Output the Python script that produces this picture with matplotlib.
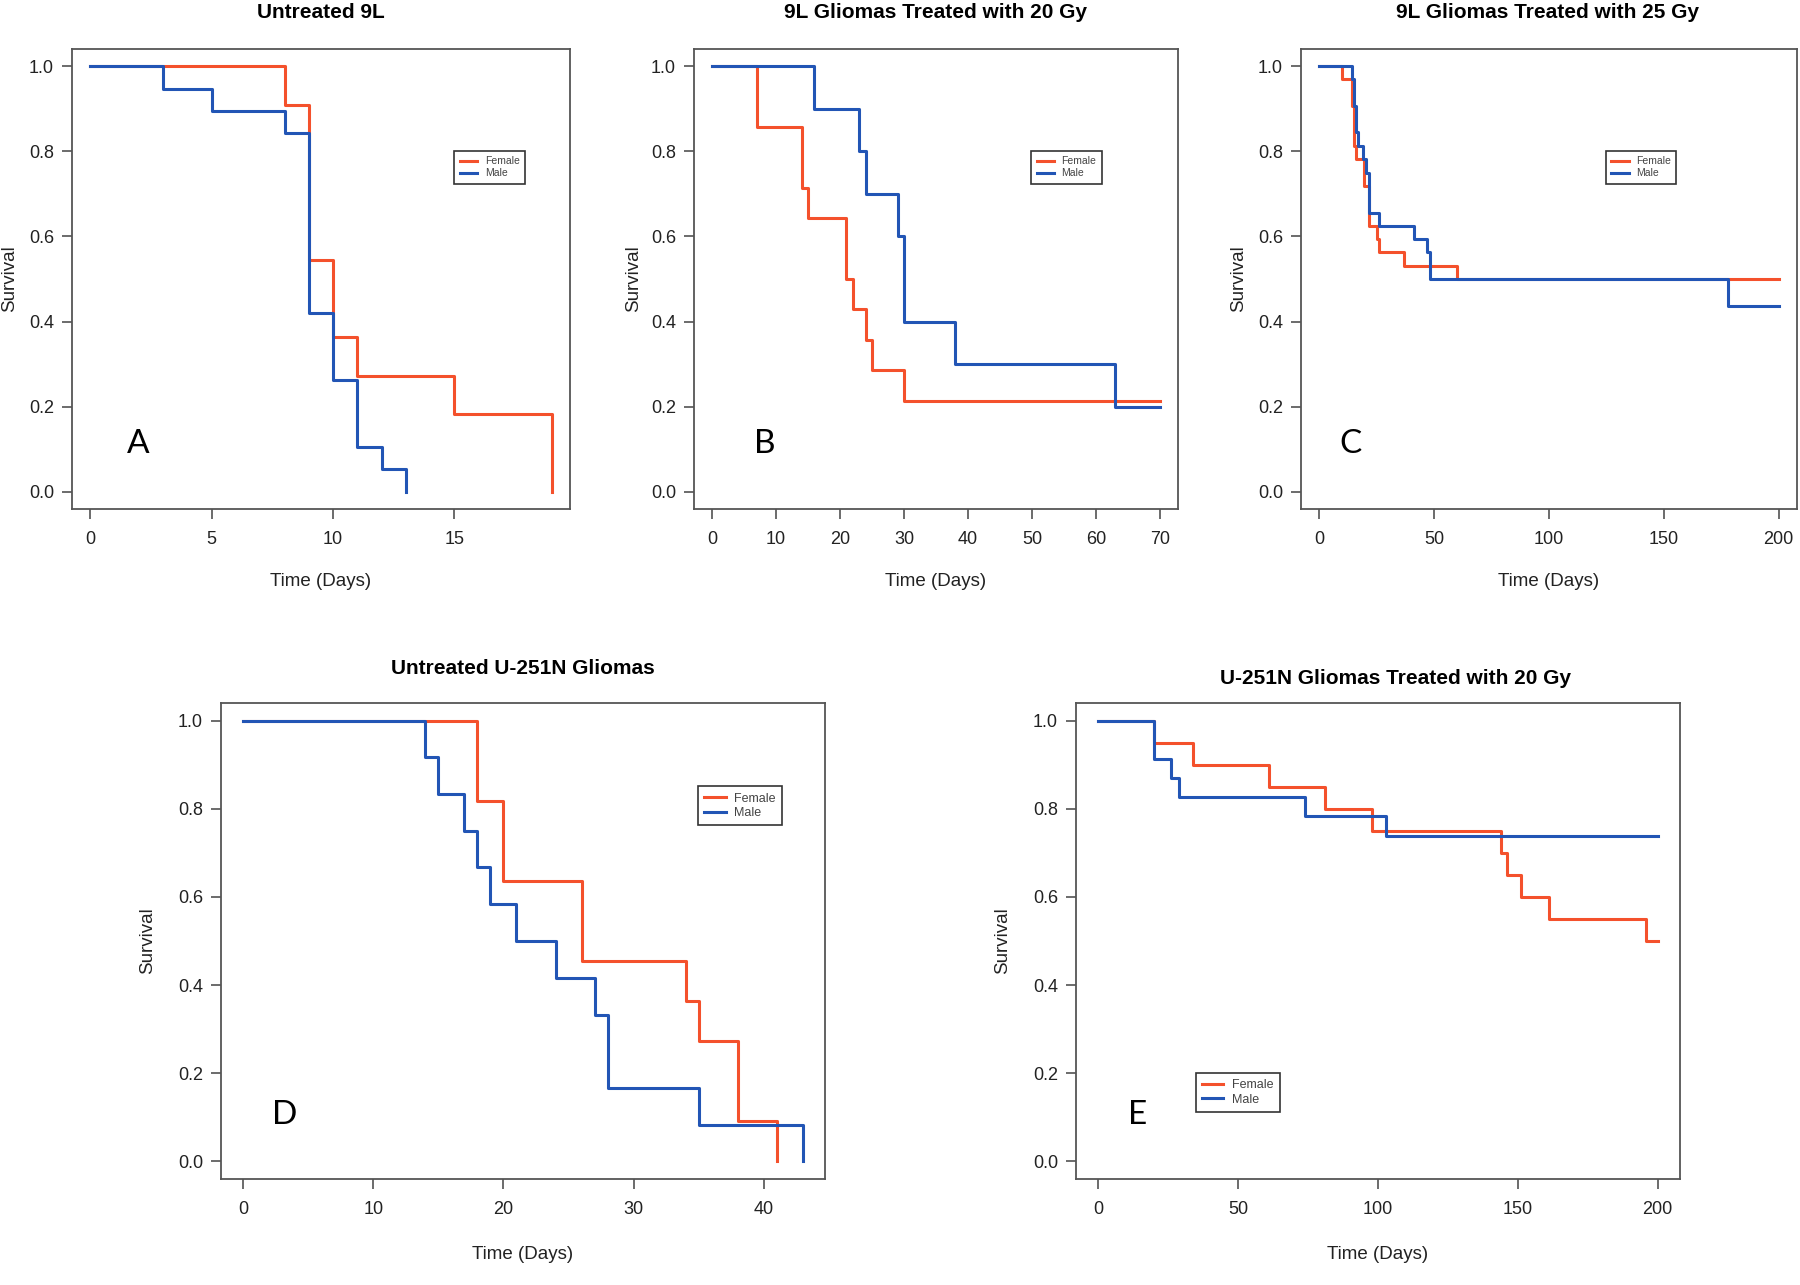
import matplotlib.pyplot as plt

plt.rcParams['font.family'] = ['Liberation Sans Narrow', 'Liberation Sans', 'DejaVu Sans']

red = '#F4512C'
blue = '#2255B5'

# --- A: Untreated 9L
a_f_t = [0, 8, 9, 10, 11, 15, 19, 19]
a_f_s = [1.0, 0.909, 0.545, 0.364, 0.273, 0.182, 0.0, 0.0]
a_m_t = [0, 3, 5, 8, 9, 10, 11, 12, 13, 13]
a_m_s = [1.0, 0.947, 0.895, 0.842, 0.421, 0.263, 0.105, 0.053, 0.0, 0.0]

# --- B: 9L treated with 20 Gy
b_f_t = [0, 7, 14, 15, 21, 22, 24, 25, 30, 70]
b_f_s = [1.0, 0.857, 0.714, 0.643, 0.5, 0.429, 0.357, 0.286, 0.214, 0.214]
b_m_t = [0, 16, 23, 24, 29, 30, 38, 63, 70]
b_m_s = [1.0, 0.9, 0.8, 0.7, 0.6, 0.4, 0.3, 0.2, 0.2]

# --- C: 9L treated with 25 Gy
c_f_t = [0, 10, 14, 15, 16, 19.5, 21.5, 25, 26, 37, 60, 200]
c_f_s = [1.0, 0.969, 0.906, 0.8125, 0.781, 0.719, 0.625, 0.594, 0.5625, 0.531, 0.5, 0.5]
c_m_t = [0, 14, 15, 16, 17, 19, 20.3, 21.8, 26, 41, 47, 48, 178, 200]
c_m_s = [1.0, 0.969, 0.906, 0.844, 0.8125, 0.781, 0.75, 0.656, 0.625, 0.594, 0.5625, 0.5, 0.4375, 0.4375]

# --- D: untreated U-251N
d_f_t = [0, 18, 20, 26, 34, 35, 38, 41, 41]
d_f_s = [1.0, 0.818, 0.636, 0.455, 0.364, 0.273, 0.091, 0.0, 0.0]
d_m_t = [0, 14, 15, 17, 18, 19, 21, 24, 27, 28, 35, 43, 43]
d_m_s = [1.0, 0.917, 0.833, 0.75, 0.667, 0.583, 0.5, 0.417, 0.333, 0.167, 0.083, 0.0, 0.0]

# --- E: U-251N treated with 20 Gy
e_f_t = [0, 20, 34, 61, 81, 98, 144, 146, 151, 161, 196, 200]
e_f_s = [1.0, 0.95, 0.9, 0.85, 0.8, 0.75, 0.7, 0.65, 0.6, 0.55, 0.5, 0.5]
e_m_t = [0, 20, 26, 29, 74, 103, 200]
e_m_s = [1.0, 0.913, 0.870, 0.826, 0.783, 0.739, 0.739]

panels = [
    dict(title='Untreated 9L', letter='A', f=(a_f_t, a_f_s), m=(a_m_t, a_m_s),
         xticks=[0, 5, 10, 15], rect=[72, 49, 570, 509], tpos=(321, 12),
         leg=(0.768, 0.778), lfs=7.5, let=(0.132, 0.141)),
    dict(title='9L Gliomas Treated with 20 Gy', letter='B', f=(b_f_t, b_f_s), m=(b_m_t, b_m_s),
         xticks=[0, 10, 20, 30, 40, 50, 60, 70], rect=[694, 49, 1178, 509], tpos=(935, 12),
         leg=(0.697, 0.778), lfs=7.5, let=(0.147, 0.141)),
    dict(title='9L Gliomas Treated with 25 Gy', letter='C', f=(c_f_t, c_f_s), m=(c_m_t, c_m_s),
         xticks=[0, 50, 100, 150, 200], rect=[1301, 49, 1797, 509], tpos=(1548, 12),
         leg=(0.615, 0.778), lfs=7.5, let=(0.10, 0.141)),
    dict(title='Untreated U-251N Gliomas', letter='D', f=(d_f_t, d_f_s), m=(d_m_t, d_m_s),
         xticks=[0, 10, 20, 30, 40], rect=[221, 703, 825, 1179], tpos=(523, 669),
         leg=(0.79, 0.825), lfs=9, let=(0.106, 0.135)),
    dict(title='U-251N Gliomas Treated with 20 Gy', letter='E', f=(e_f_t, e_f_s), m=(e_m_t, e_m_s),
         xticks=[0, 50, 100, 150, 200], rect=[1076, 703, 1680, 1179], tpos=(1396, 679),
         leg=(0.198, 0.223), lfs=9, let=(0.1015, 0.135)),
]

W, H = 1800, 1285
fig = plt.figure(figsize=(18, 12.85), dpi=100)

for p in panels:
    x0, y0, x1, y1 = p['rect']
    ax = fig.add_axes([x0 / W, 1 - y1 / H, (x1 - x0) / W, (y1 - y0) / H])
    ax.step(p['f'][0], p['f'][1], where='post', color=red, lw=2.2, label='Female')
    ax.step(p['m'][0], p['m'][1], where='post', color=blue, lw=2.2, label='Male')
    ax.margins(x=0.04)
    ax.set_ylim(-0.04, 1.04)
    ax.set_xticks(p['xticks'])
    ax.set_yticks([0, 0.2, 0.4, 0.6, 0.8, 1.0])
    ax.set_yticklabels(['0.0', '0.2', '0.4', '0.6', '0.8', '1.0'])
    ax.tick_params(direction='out', length=7, width=1.1, color='#444', labelsize=13,
                   labelcolor='#222')
    ax.tick_params(axis='x', pad=9)
    ax.tick_params(axis='y', pad=6)
    for s in ax.spines.values():
        s.set_color('#555')
        s.set_linewidth(1.3)
    ax.set_xlabel('Time (Days)', fontsize=13.5, color='#222')
    ax.set_ylabel('Survival', fontsize=13.5, color='#222')
    ax.xaxis.set_label_coords(0.5, -0.14)
    ax.yaxis.set_label_coords(-0.108, 0.5)
    leg = ax.legend(loc='upper left', bbox_to_anchor=p['leg'], borderaxespad=0,
                    fontsize=p['lfs'], fancybox=False, framealpha=1, edgecolor='#333',
                    handlelength=1.7, handletextpad=0.7, labelspacing=0.2, borderpad=0.5)
    leg.get_frame().set_linewidth(1.2)
    for t in leg.get_texts():
        t.set_color('#444')
    ax.text(p['let'][0], p['let'][1], p['letter'], transform=ax.transAxes,
            ha='center', va='center', fontsize=24, family='Lato')
    fig.text(p['tpos'][0] / W, 1 - p['tpos'][1] / H, p['title'], ha='center', va='center',
             fontsize=15, fontweight='bold')

fig.savefig('out.png', dpi=100)
